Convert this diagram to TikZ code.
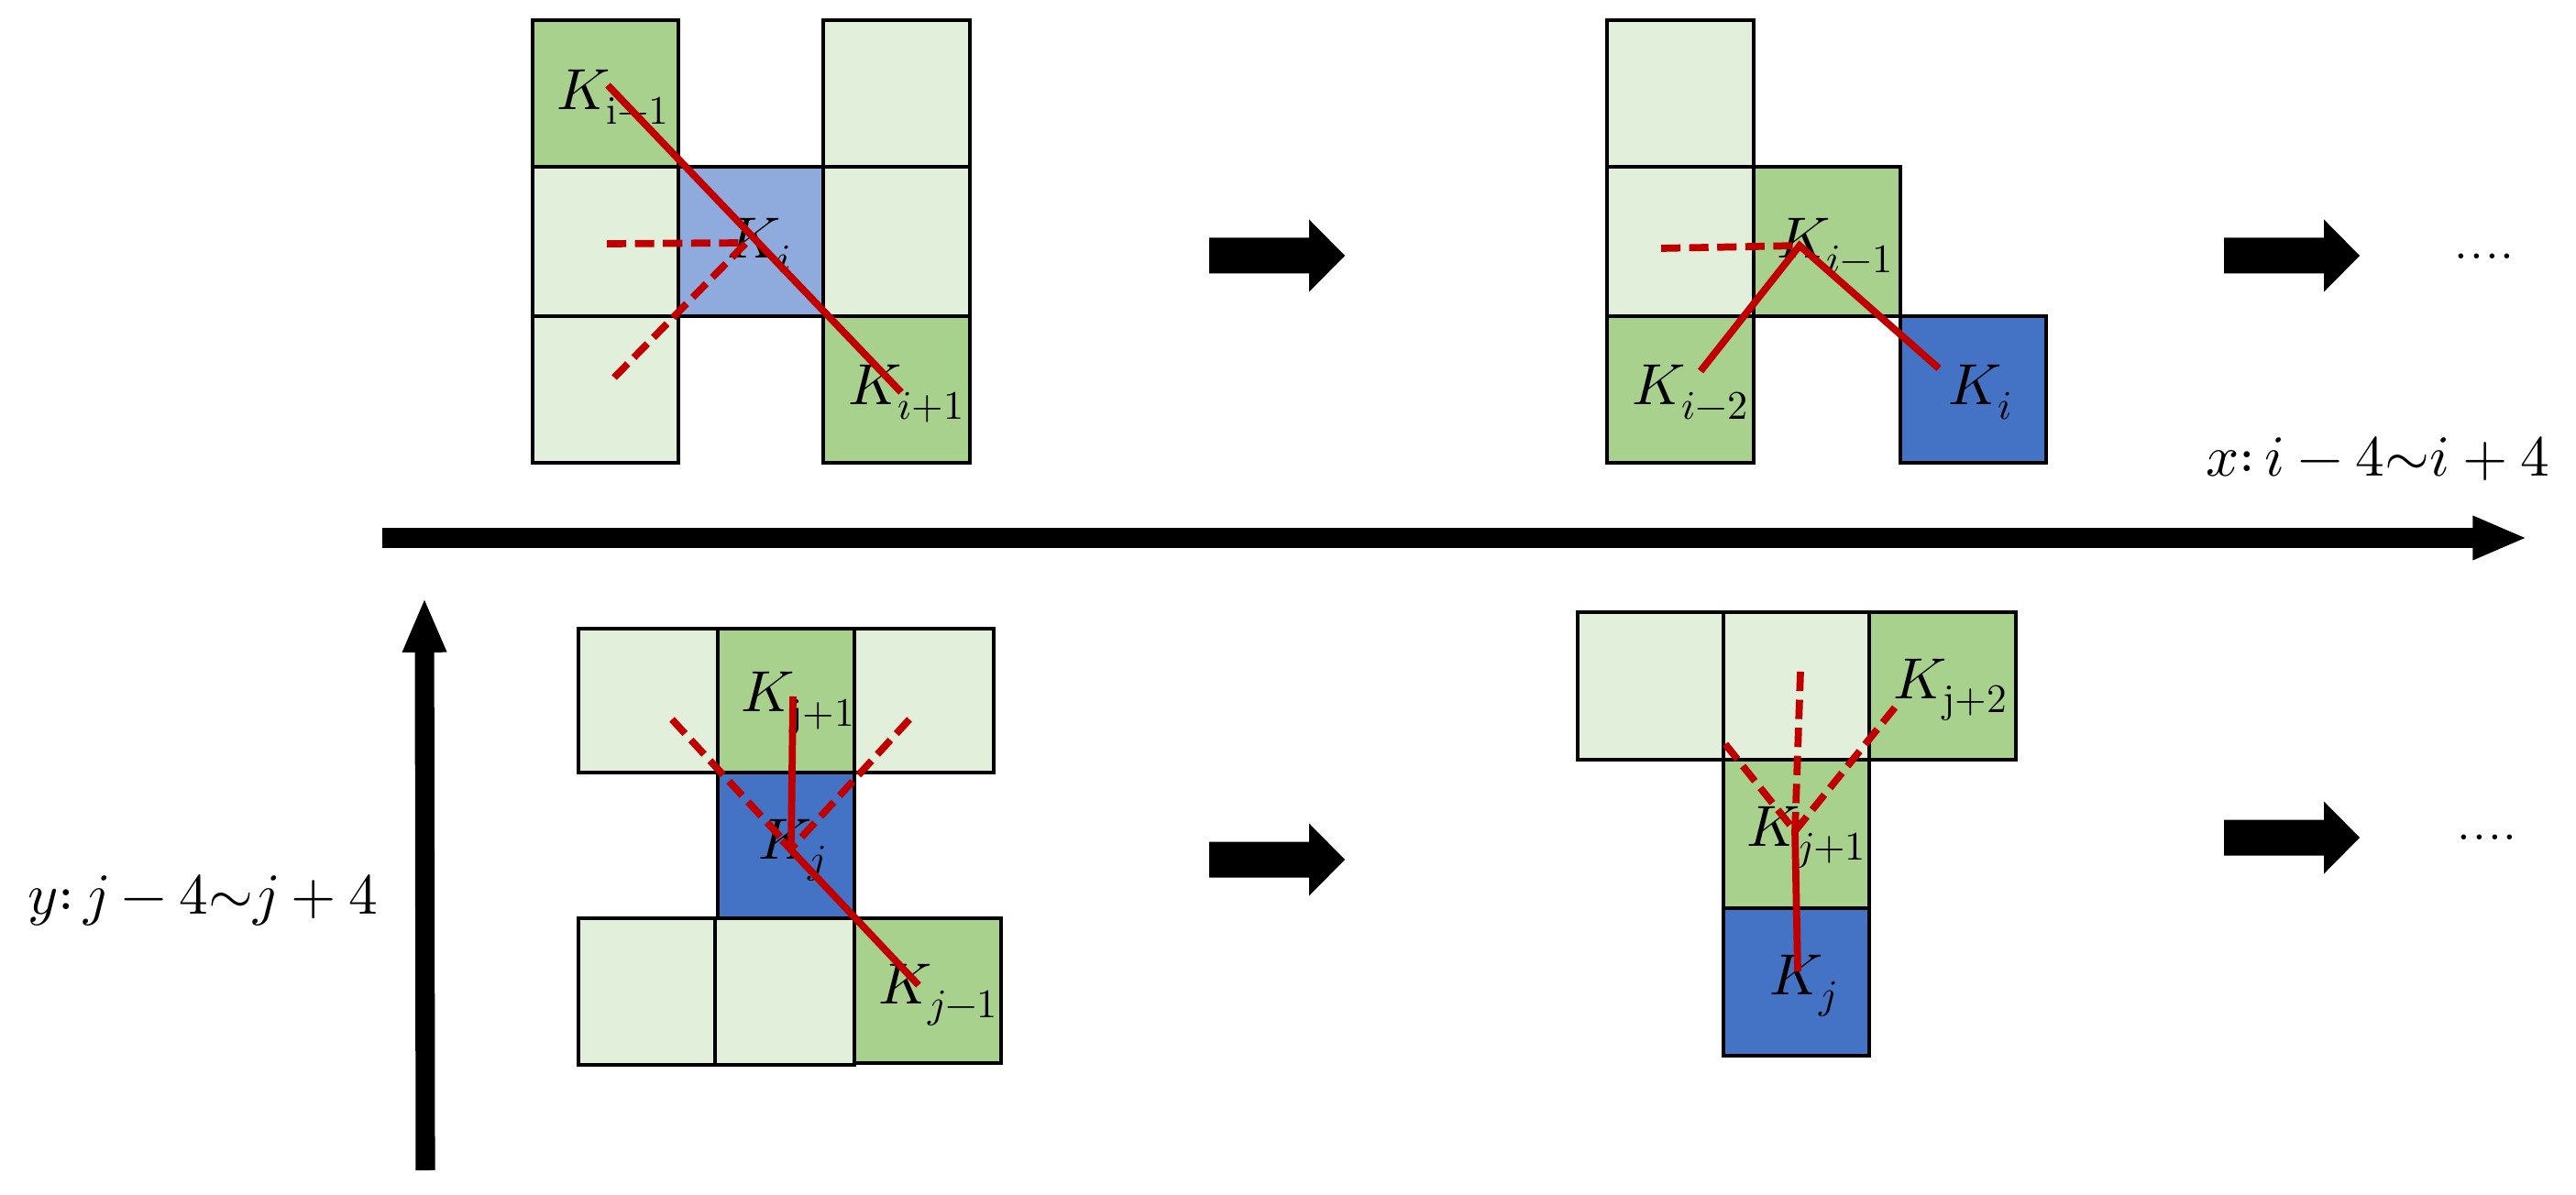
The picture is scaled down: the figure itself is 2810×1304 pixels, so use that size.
\documentclass[tikz,border=0pt]{standalone}
\usepackage{unicode-math}
\usetikzlibrary{arrows.meta}
\definecolor{CellLight}{HTML}{E2EFDA}
\definecolor{CellGreen}{HTML}{A9D18E}
\definecolor{CellSky}{HTML}{8FAADC}
\definecolor{CellBlue}{HTML}{4472C4}
\definecolor{PathRed}{HTML}{C00000}
\newcommand{\BlockArr}[2]{\fill (#1,#2) ++(0,-19.5) -- ++(109,0) -- ++(0,-20) -- ++(39,39.5) -- ++(-39,39.5) -- ++(0,-20) -- ++(-109,0) -- cycle;}

\begin{document}
\begin{tikzpicture}[x=0.01cm,y=-0.01cm,
  cell/.style={draw=black,line width=0.9pt},
  redpath/.style={PathRed,line width=2.2pt},
  reddash/.style={redpath,dash pattern=on 6pt off 2.7pt},
  lbl/.style={inner sep=0pt,anchor=base west,font=\fontsize{18}{22}\selectfont},
  axlbl/.style={inner sep=0pt,anchor=base,font=\fontsize{18}{22}\selectfont},
  axisarr/.style={line width=6pt,-{Triangle[length=17pt,width=12.5pt]}}]
\useasboundingbox (0,0) rectangle (2810,1304);

% cells
\foreach \xa/\ya/\xb/\yb/\c in {581/22/740/182/CellGreen,581/182/740/345/CellLight,581/345/740/505/CellLight,
  740/182/898/345/CellSky,898/22/1058/182/CellLight,898/182/1058/345/CellLight,898/345/1058/505/CellGreen,
  1753/22/1913/182/CellLight,1753/182/1913/345/CellLight,1753/345/1913/505/CellGreen,
  1913/182/2073/345/CellGreen,2073/345/2232/505/CellBlue,
  631/686/783/843/CellLight,783/686/932/843/CellGreen,932/686/1084/843/CellLight,783/843/932/1002/CellBlue,
  631/1002/780/1162/CellLight,780/1002/932/1162/CellLight,932/1002/1092/1160/CellGreen,
  1721/668/1880/829/CellLight,1880/668/2039/829/CellLight,2039/668/2199/829/CellGreen,
  1880/829/2039/991/CellGreen,1880/991/2039/1152/CellBlue}
  \draw[cell,fill=\c] (\xa,\ya) rectangle (\xb,\yb);

% labels
\node[lbl] (ti1) at (607,120) {$K_{\mathrm{i-1}}$};
\node[lbl] (ti) at (793,282) {$K_{i}$};
\node[lbl] (ti2) at (925,442) {$K_{i+1}$};
\node[lbl] (ri1) at (1938,282) {$K_{i-1}$};
\node[lbl] (ri2) at (1780,442) {$K_{i-2}$};
\node[lbl] (ri) at (2125,442) {$K_{i}$};
\node[lbl] (lj1) at (808,777) {$K_{\mathrm{j+1}}$};
\node[lbl] (lj) at (827,937) {$K_{j}$};
\node[lbl] (lj2) at (958,1095) {$K_{j-1}$};
\node[lbl] (bj2) at (2065,762) {$K_{\mathrm{j+2}}$};
\node[lbl] (bj1) at (1905,923) {$K_{j+1}$};
\node[lbl] (bj) at (1930,1085) {$K_{j}$};

% red paths
\coordinate (a0) at (814,265); \coordinate (a1) at (663,93); \coordinate (a2) at (983,428);
\coordinate (a3) at (662,266); \coordinate (a4) at (670,412);
\draw[redpath] (a1) -- (a2);
\draw[reddash] (a3) -- (a0) (a4) -- (a0);

\coordinate (b0) at (1963,268); \coordinate (b1) at (1855,405); \coordinate (b2) at (2115,402);
\coordinate (b3) at (1812,271);
\draw[redpath] (b1) -- (b0) -- (b2);
\draw[reddash] (b3) -- (b0);

\coordinate (c0) at (863,926); \coordinate (c1) at (865,760); \coordinate (c2) at (1002,1075);
\coordinate (c3) at (733,785); \coordinate (c4) at (992,785); \coordinate (c5) at (853,917);
\draw[redpath] (c1) -- (c0) (c5) -- (c2);
\draw[reddash] (c3) -- (c0) (c4) -- (c0);

\coordinate (d0) at (1958,907); \coordinate (d1) at (1961,1060); \coordinate (d2) at (1964,733);
\coordinate (d3) at (1882,812); \coordinate (d4) at (2067,772);
\draw[redpath] (d1) -- (d0);
\draw[reddash] (d2) -- (d0) (d3) -- (d0) (d4) -- (d0);

% arrows
\BlockArr{1319}{279}
\BlockArr{2426}{279}
\BlockArr{1319}{938}
\BlockArr{2426}{914}
\node[axlbl,font=\fontsize{19}{22}\selectfont] (dt) at (2710,283) {....};
\node[axlbl,font=\fontsize{19}{22}\selectfont] (db) at (2713,916) {....};

\coordinate (xs) at (417,587); \coordinate (xe) at (2757,587);
\coordinate (ys) at (464,1277); \coordinate (ye) at (463,652);
\draw[axisarr] (xs) -- (xe);
\draw[axisarr] (ys) -- (ye);
\node[axlbl,anchor=base east] (xl) at (2782,520) {$x{:}\,i-4{\sim}i+4$};
\node[axlbl,anchor=base west] (yl) at (30,997) {$y{:}\,j-4{\sim}j+4$};

\end{tikzpicture}
\end{document}
